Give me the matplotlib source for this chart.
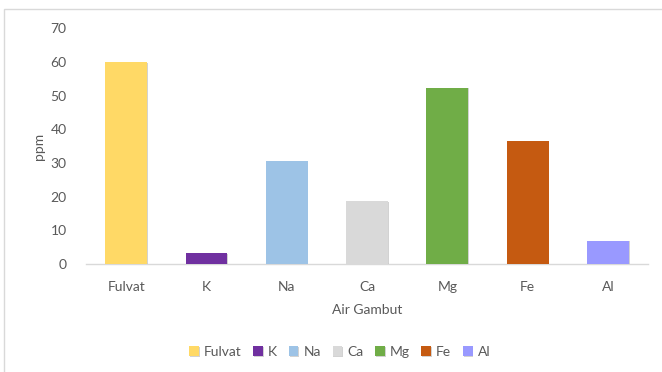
import matplotlib.pyplot as plt
import matplotlib.patheffects as pe
from matplotlib.patches import Rectangle

# ppm per parameter in the peat water sample
categories = ["Fulvat", "K", "Na", "Ca", "Mg", "Fe", "Al"]
values = [60, 3.3, 30.6, 18.8, 52.4, 36.6, 7.0]
colors = ["#FFD966", "#7030A0", "#9DC3E6", "#D9D9D9", "#70AD47", "#C55A11", "#9999FF"]

plt.rcParams['font.family'] = ['Lato', 'DejaVu Sans']
txt = "#595959"
fs = 10

fig = plt.figure(figsize=(6.62, 3.72), dpi=100)
ax = fig.add_axes([0.130, 0.290, 0.849, 0.634])

shadow = [pe.SimplePatchShadow(offset=(0.6, -0.6), shadow_rgbFace="#808080", alpha=0.35), pe.Normal()]
for i, (cat, v, c) in enumerate(zip(categories, values, colors)):
    b = ax.bar(i, v, width=0.52, color=c, label=cat, zorder=3)
    for p in b:
        p.set_path_effects(shadow)

ax.set_xlim(-0.5, len(categories) - 0.5)
ax.set_ylim(0, 70)
ax.set_yticks(range(0, 71, 10))
ax.set_xticks(range(len(categories)))
ax.set_xticklabels(categories)
ax.tick_params(length=0, labelsize=fs, colors=txt)
ax.tick_params(axis='y', pad=14)
ax.tick_params(axis='x', pad=12)
for s in ["top", "right", "left"]:
    ax.spines[s].set_visible(False)
ax.spines["bottom"].set_color("#D9D9D9")
ax.spines["bottom"].set_linewidth(1.0)

ax.set_ylabel("ppm", fontsize=fs, color=txt, labelpad=4)
ax.set_xlabel("Air Gambut", fontsize=fs, color=txt, labelpad=8)

leg = fig.legend(loc="center", bbox_to_anchor=(0.513, 0.054), ncol=7, frameon=False,
                 fontsize=fs, handlelength=0.7, handleheight=0.7, handletextpad=0.35,
                 columnspacing=0.85)
for t in leg.get_texts():
    t.set_color(txt)

# outer chart frame
fig.patches.append(Rectangle((4 / 662, -0.1), 1.2, 1 - 9 / 372 + 0.1, transform=fig.transFigure,
                             fill=False, edgecolor="#D9D9D9", linewidth=1.0))

fig.savefig("out.png", dpi=100)
